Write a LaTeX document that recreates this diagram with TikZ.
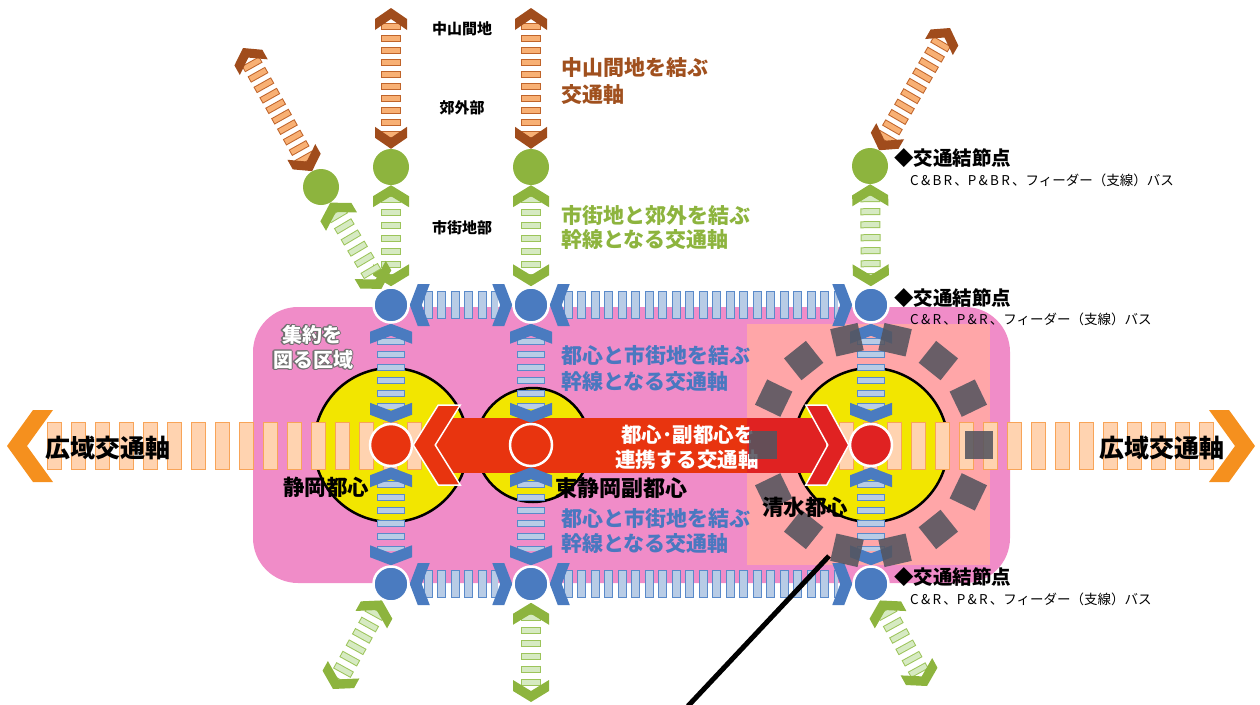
\documentclass[tikz,border=0pt]{standalone}
\usepackage{fontspec}
\setmainfont{Noto Sans CJK JP}
\usetikzlibrary{calc}
\pgfdeclarelayer{back}
\pgfdeclarelayer{axone}
\pgfdeclarelayer{axtwo}
\pgfdeclarelayer{front}
\pgfsetlayers{back,axone,axtwo,main,front}
\definecolor{pinkA}{HTML}{F08CC8}
\definecolor{salmon}{HTML}{FFA6A8}
\definecolor{yel}{HTML}{F2E600}
\definecolor{blueC}{HTML}{4A7BC0}
\definecolor{blueF}{HTML}{B8CCE6}
\definecolor{blueB}{HTML}{5A8ACA}
\definecolor{greenC}{HTML}{8DB43E}
\definecolor{greenF}{HTML}{D6EAC2}
\definecolor{greenB}{HTML}{9CC45A}
\definecolor{brownC}{HTML}{A04C1C}
\definecolor{brownF}{HTML}{F8B074}
\definecolor{brownB}{HTML}{C0642A}
\definecolor{orangeC}{HTML}{F5901E}
\definecolor{orangeF}{HTML}{FFD3B0}
\definecolor{orangeB}{HTML}{F8A458}
\definecolor{redA}{HTML}{E8340F}
\definecolor{redB}{HTML}{E02222}
\definecolor{grayS}{HTML}{55555F}
\definecolor{shadowgray}{HTML}{707070}
\definecolor{txtbrown}{HTML}{A0501E}
\definecolor{txtgreen}{HTML}{8DB43E}
\definecolor{txtblue}{HTML}{4A78C0}

% chevron: tip at #1, pointing away from #2; depth #3, half width #4, thickness #5, style #6
\newcommand\chev[6]{%
  \pgfmathanglebetweenpoints{\pgfpointanchor{#2}{center}}{\pgfpointanchor{#1}{center}}%
  \let\chevang\pgfmathresult
  \begin{scope}[shift={(#1)}, rotate=\chevang]
    \fill[#6] (0,0) -- (-#3,#4) -- ({-(#3)-(#5)},#4) -- (-#5,0) -- ({-(#3)-(#5)},-#4) -- (-#3,-#4) -- cycle;
  \end{scope}}

\def\axtypeblueV{\def\axW{28}\def\axL{7}\def\axG{6}\def\axS{14}\def\axH{8}\def\axWw{21}\def\axT{12}\def\axB{blueB}\def\axF{blueF}\def\axC{blueC}}
\def\axtypeblueH{\def\axW{28}\def\axL{9}\def\axG{4.5}\def\axS{14}\def\axH{8}\def\axWw{21}\def\axT{12}\def\axB{blueB}\def\axF{blueF}\def\axC{blueC}}
\def\axtypegreen{\def\axW{20}\def\axL{7}\def\axG{6}\def\axS{11}\def\axH{11}\def\axWw{18}\def\axT{11}\def\axB{greenB}\def\axF{greenF}\def\axC{greenC}}
\def\axtypebrown{\def\axW{20}\def\axL{7}\def\axG{5}\def\axS{11}\def\axH{11}\def\axWw{16}\def\axT{11}\def\axB{brownB}\def\axF{brownF}\def\axC{brownC}}
\def\axtypeorange{\def\axW{48}\def\axL{15}\def\axG{9}\def\axS{40}\def\axH{26}\def\axWw{36}\def\axT{20}\def\axB{orangeB}\def\axF{orangeF}\def\axC{orangeC}}

\newcommand\connaxis[3]{%
  \csname axtype#3\endcsname
  \path (#1) -- (#2) coordinate[pos=0] (as) coordinate[pos=1] (ae);
  \coordinate (ps) at ($(as)!\axS pt!(ae)$);
  \coordinate (pe) at ($(ae)!\axS pt!(as)$);
  \pgfmathsetmacro\axWi{\axW-2}%
  \pgfmathsetmacro\axLi{\axL-2}%
  \pgfmathsetmacro\axGi{\axG+2}%
  \pgfmathsetmacro\axPh{\axL+\axG-1}%
  \draw[line width=\axW pt, draw=\axB, dash pattern=on \axL pt off \axG pt] (ps) -- (pe);
  \draw[line width=\axWi pt, draw=\axF, dash pattern=on \axLi pt off \axGi pt, dash phase=\axPh pt] (ps) -- (pe);
  \chev{as}{ae}{\axH}{\axWw}{\axT}{\axC}
  \chev{ae}{as}{\axH}{\axWw}{\axT}{\axC}
}

\tikzset{
  bcirc/.style={circle, fill=blueC, draw=white, line width=2.5pt, minimum size=35pt, inner sep=0pt},
  gcirc/.style={circle, fill=greenC, minimum size=36pt, inner sep=0pt},
  rcirc/.style={circle, fill=redA, draw=white, line width=2.5pt, minimum size=42pt, inner sep=0pt},
  ycirc/.style={circle, fill=yel, draw=black, line width=2.5pt, inner sep=0pt},
  tsmall/.style={font=\bfseries\fontsize{15pt}{18pt}\selectfont, inner sep=0pt},
  tmid/.style={font=\bfseries\fontsize{21pt}{25pt}\selectfont, inner sep=0pt},
  tbig/.style={font=\bfseries\fontsize{25pt}{30pt}\selectfont, inner sep=0pt},
  tnode/.style={font=\bfseries\fontsize{19.5pt}{23pt}\selectfont, inner sep=0pt, anchor=west},
  tbus/.style={font=\fontsize{13.5pt}{16pt}\selectfont, inner sep=0pt, anchor=west},
  tarea/.style={font=\bfseries\fontsize{20pt}{24pt}\selectfont, inner sep=0pt},
}

\begin{document}
\begin{tikzpicture}[x=1pt,y=-1pt]
\useasboundingbox (0,0) rectangle (1260,704);

% ---------- background areas ----------
\begin{pgfonlayer}{back}
  \fill[pinkA, rounded corners=45pt] (253,307) rectangle (1010,583);
  \fill[salmon] (747,324) rectangle (990,565);
  \node[ycirc, minimum size=154pt] (yS) at (391,445) {};
  \node[ycirc, minimum size=114pt] (yH) at (533,445) {};
  \node[ycirc, minimum size=154pt] (yM) at (871,445) {};
\end{pgfonlayer}

% ---------- circles ----------
\node[rcirc] (r1) at (391,445) {};
\node[rcirc] (r2) at (531,445) {};
\node[rcirc, fill=redB] (r3) at (871,445) {};
\node[bcirc] (b1) at (391,305) {};
\node[bcirc] (b2) at (531,305) {};
\node[bcirc] (b3) at (871,305) {};
\node[bcirc] (b4) at (391,584) {};
\node[bcirc] (b5) at (531,584) {};
\node[bcirc] (b6) at (871,584) {};
\node[gcirc] (g0) at (321,187) {};
\node[gcirc] (g1) at (391,167) {};
\node[gcirc] (g2) at (531,167) {};
\node[gcirc] (g3) at (870,166) {};

% free ends
\coordinate (ol) at (7,446);
\coordinate (or) at (1255,446);
\coordinate (nb1) at (391,8);
\coordinate (nb2) at (531,8);
\coordinate (nb0) at (243,48);
\coordinate (nb3) at (950,28);
\coordinate (sg1) at (333,689);
\coordinate (sg2) at (531,702);
\coordinate (sg3) at (927,686);

% ---------- wide-area axis and red band ----------
\begin{pgfonlayer}{axone}
  \connaxis{ol}{or}{orange}
  \path (r1) -- (r3) coordinate[pos=0] (rs) coordinate[pos=1] (re);
  \fill[redA] ($(rs)+(23,-27.5)$) rectangle (747,472.5);
  \fill[redB] (747,417.5) rectangle ($(re)+(-23,27.5)$);
  \chev{rs}{re}{25}{40}{22}{redA, draw=white, line width=1.5pt}
  \chev{re}{rs}{22}{40}{21}{redB, draw=white, line width=1.5pt}
\end{pgfonlayer}

% ---------- other axes ----------
\begin{pgfonlayer}{axtwo}
  \connaxis{b1}{r1}{blueV}
  \connaxis{r1}{b4}{blueV}
  \connaxis{b2}{r2}{blueV}
  \connaxis{r2}{b5}{blueV}
  \connaxis{b3}{r3}{blueV}
  \connaxis{r3}{b6}{blueV}
  \connaxis{b1}{b2}{blueH}
  \connaxis{b2}{b3}{blueH}
  \connaxis{b4}{b5}{blueH}
  \connaxis{b5}{b6}{blueH}
  \connaxis{g1}{b1}{green}
  \connaxis{g2}{b2}{green}
  \connaxis{g3}{b3}{green}
  \connaxis{g0}{b1}{green}
  \connaxis{b4}{sg1}{green}
  \connaxis{b5}{sg2}{green}
  \connaxis{b6}{sg3}{green}
  \connaxis{g1}{nb1}{brown}
  \connaxis{g2}{nb2}{brown}
  \connaxis{g0}{nb0}{brown}
  \connaxis{g3}{nb3}{brown}
\end{pgfonlayer}

% ---------- texts, squares, leader ----------
\begin{pgfonlayer}{front}
  \node[tmid, text=white, font=\bfseries\fontsize{20.5pt}{24pt}\selectfont] (tJ1) at (688,435) {都心･副都心を};
  \node[tmid, text=white, font=\bfseries\fontsize{20.5pt}{24pt}\selectfont] (tJ2) at (687,460) {連携する交通軸};

  \foreach \k in {0,...,13}{%
    \pgfmathsetmacro\ga{\k*360/14}%
    \begin{scope}[shift={(r3)}, rotate=\ga]
      \fill[grayS, opacity=0.88] (94,-14) rectangle (122,14);
    \end{scope}
  }

  \foreach \dx/\dy [count=\k] in {1.2/0,-1.2/0,0/1.2,0/-1.2,0.85/0.85,-0.85/0.85,0.85/-0.85,-0.85/-0.85}{%
    \node[tarea, text=shadowgray] (sa\k) at ($(312,335)+(\dx,\dy)$) {集約を};
    \node[tarea, text=shadowgray] (sb\k) at ($(313,360)+(\dx,\dy)$) {図る区域};
  }
  \node[tarea, text=white] (tK1) at (312,335) {集約を};
  \node[tarea, text=white] (tK2) at (313,360) {図る区域};

  \node[tsmall] (tA) at (462,29) {中山間地};
  \node[tsmall] (tB) at (462,108) {郊外部};
  \node[tsmall] (tC) at (462,228) {市街地部};
  \node[tmid, text=txtbrown, anchor=west] (tD1) at (561,68) {中山間地を結ぶ};
  \node[tmid, text=txtbrown, anchor=west] (tD2) at (561,95) {交通軸};
  \node[tmid, text=txtgreen, anchor=west] (tE1) at (561,215) {市街地と郊外を結ぶ};
  \node[tmid, text=txtgreen, anchor=west] (tE2) at (561,240) {幹線となる交通軸};
  \node[tmid, text=txtblue, anchor=west] (tL1) at (561,355) {都心と市街地を結ぶ};
  \node[tmid, text=txtblue, anchor=west] (tL2) at (561,382) {幹線となる交通軸};
  \node[tmid, text=txtblue, anchor=west] (tM1) at (561,518) {都心と市街地を結ぶ};
  \node[tmid, text=txtblue, anchor=west] (tM2) at (561,544) {幹線となる交通軸};

  \node[tnode] (tF1) at (894,158) {◆交通結節点};
  \node[tbus] (tF2) at (910,180) {C\,\&\,B\,R\,、P\,\&\,B\,R\,、フィーダー（支線）バス};
  \node[tnode] (tG1) at (894,298) {◆交通結節点};
  \node[tbus] (tG2) at (910,319) {C\,\&\,R\,、P\,\&\,R\,、フィーダー（支線）バス};
  \node[tnode] (tH1) at (894,577) {◆交通結節点};
  \node[tbus] (tH2) at (910,599) {C\,\&\,R\,、P\,\&\,R\,、フィーダー（支線）バス};

  \node[tbig] (tW1) at (108,448) {広域交通軸};
  \node[tbig] (tW2) at (1162,448) {広域交通軸};
  \node[tmid, font=\bfseries\fontsize{21.5pt}{25pt}\selectfont] (tS1) at (326,487) {静岡都心};
  \node[tmid, font=\bfseries\fontsize{22pt}{26pt}\selectfont] (tS2) at (621,488) {東静岡副都心};
  \node[tmid, font=\bfseries\fontsize{21.5pt}{25pt}\selectfont] (tS3) at (805,507) {清水都心};

  \coordinate (lnA) at (688,706);
  \coordinate (lnB) at (829,556);
  \draw[line width=5pt] (lnA) -- (lnB);
\end{pgfonlayer}
\end{tikzpicture}
\end{document}
